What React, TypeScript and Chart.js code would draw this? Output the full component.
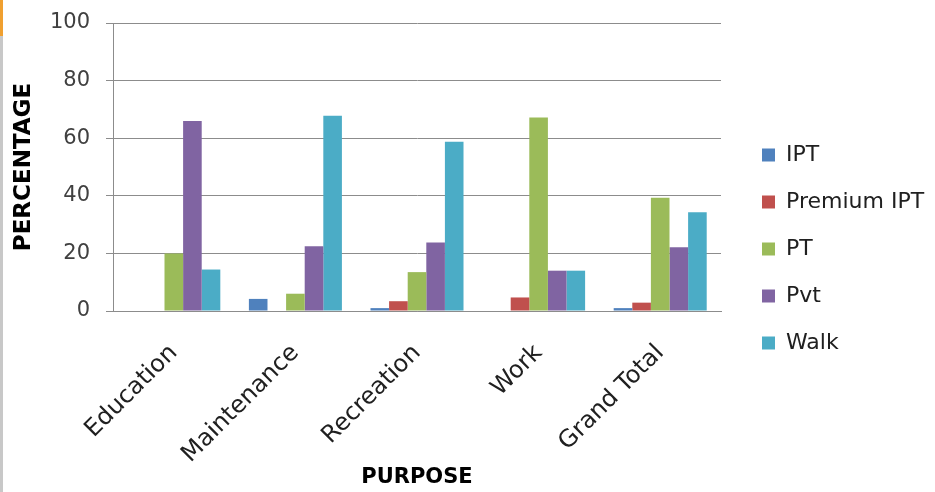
import React, { useEffect, useRef } from "react";
import { Chart, registerables } from "chart.js";

Chart.register(...registerables);

const categories = ["Education", "Maintenance", "Recreation", "Work", "Grand Total"];
const ipt = [0, 4.2, 1.0, 0, 1.0];
const premiumIpt = [0, 0, 3.4, 4.7, 2.9];
const pt = [20, 6.0, 13.5, 67.2, 39.3];
const pvt = [66.0, 22.5, 23.8, 14.0, 22.1];
const walk = [14.4, 67.8, 58.8, 14.0, 34.3];
const yTicks = [0, 20, 40, 60, 80, 100];

const FONT = "'DejaVu Sans', sans-serif";

export default function App() {
  const ref = useRef<HTMLCanvasElement | null>(null);
  useEffect(() => {
    if (!ref.current) return;
    const chart = new Chart(ref.current, {
      type: "bar",
      data: {
        labels: categories,
        datasets: [
          { label: "IPT", data: ipt, backgroundColor: "#4F81BD" },
          { label: "Premium IPT", data: premiumIpt, backgroundColor: "#C0504D" },
          { label: "PT", data: pt, backgroundColor: "#9BBB59" },
          { label: "Pvt", data: pvt, backgroundColor: "#8064A2" },
          { label: "Walk", data: walk, backgroundColor: "#4BACC6" },
        ],
      },
      options: {
        animation: false,
        responsive: false,
        maintainAspectRatio: false,
        layout: { padding: { left: 0, right: 0, top: 0, bottom: 0 } },
        datasets: { bar: { categoryPercentage: 0.765, barPercentage: 1 } },
        plugins: {
          tooltip: { enabled: false },
          legend: {
            position: "right",
            align: "center",
            labels: {
              boxWidth: 13,
              boxHeight: 13,
              padding: 25,
              color: "#202020",
              font: { family: FONT, size: 22 },
            },
          },
        },
        scales: {
          x: {
            grid: { display: false },
            border: { display: true, color: "#8c8c8c", width: 1 },
            ticks: {
              minRotation: 45,
              maxRotation: 45,
              color: "#202020",
              font: { family: FONT, size: 24 },
              padding: 20,
            },
            title: {
              display: true,
              text: "PURPOSE",
              color: "#000",
              font: { family: FONT, size: 21, weight: "bold" },
              padding: { top: 0, bottom: 2 },
            },
            afterFit: (scale: any) => {
              scale.height = 492 - 311;
              scale.paddingLeft = 0;
              scale.paddingRight = 0;
            },
          },
          y: {
            min: 0,
            max: 100,
            afterBuildTicks: (scale: any) => {
              scale.ticks = yTicks.map((v) => ({ value: v }));
            },
            grid: {
              color: "#8c8c8c",
              lineWidth: 1,
              drawTicks: true,
              tickLength: 7,
              tickColor: "#8c8c8c",
            },
            border: { display: true, color: "#8c8c8c", width: 1 },
            ticks: {
              color: "#404040",
              font: { family: FONT, size: 21 },
              padding: 16,
            },
            title: {
              display: true,
              text: "PERCENTAGE",
              color: "#000",
              font: { family: FONT, size: 23, weight: "bold" },
              padding: { top: 10, bottom: 0 },
            },
            afterFit: (scale: any) => {
              scale.width = 113;
              scale.paddingTop = 23;
              scale.paddingBottom = 0;
            },
          },
        },
      },
    });
    const lg: any = (chart as any).legend;
    if (lg) {
      const origFit = lg.fit.bind(lg);
      lg.fit = function () {
        origFit();
        this.width = 214;
      };
      const origDraw = lg.draw.bind(lg);
      lg.draw = function (area: any) {
        const l = this.left;
        const t = this.top;
        const b = this.bottom;
        this.left = l + 16;
        this.top = t + 3;
        this.bottom = b + 3;
        origDraw(area);
        this.left = l;
        this.top = t;
        this.bottom = b;
      };
      chart.update();
    }
    return () => chart.destroy();
  }, []);
  return (
    <div style={{ position: "fixed", left: 0, top: 0, width: 935, height: 492, background: "#fff" }}>
      <div style={{ position: "absolute", left: 0, top: 0, width: 3, height: 36, background: "#F0A030" }} />
      <div style={{ position: "absolute", left: 0, top: 36, width: 3, height: 456, background: "#c8c8c8" }} />
      <canvas ref={ref} width={935} height={492} style={{ position: "absolute", left: 0, top: 0, width: 935, height: 492 }} />
    </div>
  );
}
